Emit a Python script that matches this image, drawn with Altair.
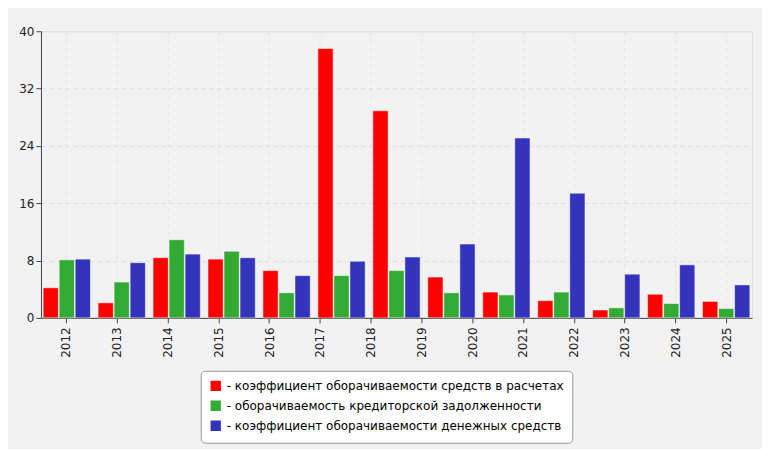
import altair as alt
import pandas as pd

groups = [str(y) for y in range(2012, 2025)]
axis_years = [str(y) for y in range(2012, 2026)]
series = [
    '- коэффициент оборачиваемости средств в расчетах',
    '- оборачиваемость кредиторской задолженности',
    '- коэффициент оборачиваемости денежных средств',
]
red = [4.2, 2.1, 8.4, 8.2, 6.6, 37.6, 28.9, 5.7, 3.6, 2.4, 1.1, 3.3, 2.3]
green = [8.1, 5.0, 10.9, 9.3, 3.5, 5.9, 6.6, 3.5, 3.2, 3.6, 1.4, 2.0, 1.3]
blue = [8.2, 7.7, 8.9, 8.4, 5.9, 7.9, 8.5, 10.3, 25.1, 17.4, 6.1, 7.4, 4.6]
colors = ['#ff0000', '#33aa33', '#3333bb']

rows = []
for s, vals in zip(series, [red, green, blue]):
    for g, v in zip(groups, vals):
        rows.append({'grp': g, 'series': s, 'value': v})
data = pd.DataFrame(rows)
labels = pd.DataFrame({'year': axis_years, 'v': [0] * len(axis_years)})

yaxis = alt.Axis(values=[0, 8, 16, 24, 32, 40], gridDash=[4, 4], gridColor='#dddddd',
                 labelFontSize=12, labelColor='#222', domainColor='#444', tickColor='#444')

ticks = alt.Chart(labels).mark_tick(opacity=0).encode(
    x=alt.X('year:N', title=None,
            axis=alt.Axis(labelAngle=-90, labelFontSize=12, labelColor='#222', grid=True,
                          gridDash=[4, 4], gridColor='#e4e4e4', domainColor='#444',
                          tickColor='#444', labelPadding=4)),
    y=alt.Y('v:Q', title=None, scale=alt.Scale(domain=[0, 40]), axis=yaxis),
)

bars = alt.Chart(data).mark_bar(stroke='white', strokeWidth=0.5).encode(
    x=alt.X('grp:N', axis=None, scale=alt.Scale(paddingInner=0.14, paddingOuter=0.04)),
    xOffset=alt.XOffset('series:N', sort=series, scale=alt.Scale(paddingInner=0.05)),
    y=alt.Y('value:Q', title=None, scale=alt.Scale(domain=[0, 40])),
    color=alt.Color('series:N', sort=series,
                    scale=alt.Scale(domain=series, range=colors),
                    legend=alt.Legend(orient='none', legendX=160, legendY=340,
                                      direction='vertical', title=None,
                                      labelLimit=0, labelFontSize=12, symbolType='square',
                                      symbolSize=140, strokeColor='#999', fillColor='white',
                                      padding=8, cornerRadius=4)),
)

chart = alt.layer(ticks, bars).resolve_scale(x='independent').properties(
    width=712, height=287, background='#f2f2f2',
    padding={'left': 10, 'top': 17, 'right': 10, 'bottom': 5},
).configure_view(fill='#fdfdf6', stroke='#cccccc').configure(font='DejaVu Sans')

chart.save("out.html", embed_options={"renderer": "svg", "actions": False})
